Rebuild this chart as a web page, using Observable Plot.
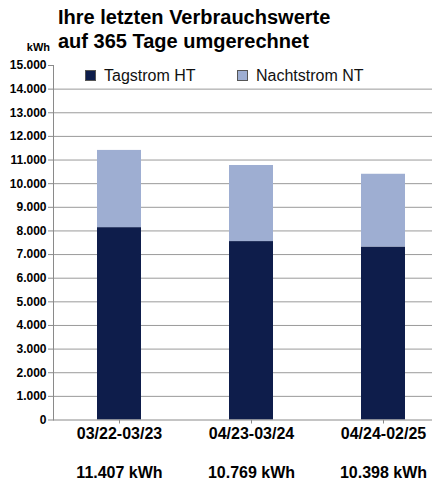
<!DOCTYPE html>
<html>
<head>
<meta charset="utf-8">
<script src="https://cdn.jsdelivr.net/npm/d3@7"></script>
<script src="https://cdn.jsdelivr.net/npm/@observablehq/plot@0.6"></script>
<style>
  html, body { margin: 0; padding: 0; background: #fff; }
  body { font-family: "Liberation Sans", Arial, sans-serif; }
  #wrap { position: relative; width: 432px; height: 483px; overflow: hidden; }
  #title { position: absolute; left: 58px; top: 5px; font-size: 20px; font-weight: bold; line-height: 24px; color: #000; white-space: nowrap; z-index: 2; }
  #unit { position: absolute; right: calc(432px - 50px); top: 41px; font-size: 11px; font-weight: bold; color: #000; z-index: 2; }
  .leg { position: absolute; top: 67px; font-size: 16px; color: #111; white-space: nowrap; z-index: 2; }
  .leg span.sw { display: inline-block; width: 9px; height: 9px; border: 1px solid #555; margin-right: 8px; vertical-align: 0px; }
  svg { position: absolute; left: 0; top: 0; }
  svg g[aria-label="y-axis tick label"] text { font-weight: bold; }
</style>
</head>
<body>
<div id="wrap">
  <div id="title">Ihre letzten Verbrauchswerte<br>auf 365 Tage umgerechnet</div>
  <div id="unit">kWh</div>
</div>
<script>
const periods = ["03/22-03/23", "04/23-03/24", "04/24-02/25"];
const series = ["Tagstrom HT", "Nachtstrom NT"];
const tagstrom = [8140, 7550, 7320];
const nachtstrom = [3267, 3219, 3078];
const totals = [11407, 10769, 10398];
const yTicks = [0, 1000, 2000, 3000, 4000, 5000, 6000, 7000, 8000, 9000, 10000, 11000, 12000, 13000, 14000, 15000];
const gridTicks = [1000, 2000, 3000, 4000, 5000, 6000, 7000, 8000, 9000, 10000, 11000, 12000, 13000, 14000];
const colors = ["#0e1d4b", "#9eaed2"];

const de = d3.formatLocale({decimal: ",", thousands: ".", grouping: [3], currency: ["", " €"]});
const fmt = de.format(",");

const rows = [];
periods.forEach((p, i) => {
  rows.push({period: p, series: series[0], value: tagstrom[i]});
  rows.push({period: p, series: series[1], value: nachtstrom[i]});
});
const totalRows = periods.map((p, i) => ({period: p, label: fmt(totals[i]) + " kWh"}));

const chart = Plot.plot({
  width: 432,
  height: 483,
  marginTop: 65,
  marginBottom: 63.5,
  marginLeft: 53,
  marginRight: 0,
  style: {fontFamily: '"Liberation Sans", Arial, sans-serif', background: "transparent", color: "#000"},
  x: {domain: periods, range: [53, 449], paddingInner: 0.667, paddingOuter: 0.333},
  y: {domain: [0, 15000]},
  color: {domain: series, range: colors},
  marks: [
    Plot.ruleY(gridTicks, {stroke: "#9a9a9a", strokeWidth: 1}),
    Plot.barY(rows, Plot.stackY({x: "period", y: "value", fill: "series", order: null})),
    Plot.ruleY([0], {stroke: "#8a8a8a", strokeWidth: 1}),
    Plot.frame({anchor: "left", stroke: "#8a8a8a"}),
    Plot.axisY({ticks: yTicks, tickFormat: fmt, tickSize: 5, tickPadding: 2, fontSize: 12, fontWeight: "bold", stroke: "#8a8a8a", label: null}),
    Plot.axisX({tickSize: 4, tickFormat: () => "", stroke: "#8a8a8a", label: null}),
    Plot.text(periods, {x: d => d, y: () => 0, text: d => d, lineAnchor: "bottom", dy: 18.5, fontSize: 16, fontWeight: "bold"}),
    Plot.text(totalRows, {x: "period", y: () => 0, text: "label", lineAnchor: "bottom", dy: 57.5, fontSize: 16, fontWeight: "bold"})
  ]
});
const wrap = document.getElementById("wrap");
wrap.insertBefore(chart, wrap.firstChild);

// legend
const legX = [85, 237];
series.forEach((s, i) => {
  const d = document.createElement("div");
  d.className = "leg";
  d.style.left = legX[i] + "px";
  const sw = document.createElement("span");
  sw.className = "sw";
  sw.style.background = colors[i];
  d.appendChild(sw);
  d.appendChild(document.createTextNode(s));
  wrap.appendChild(d);
});
</script>
</body>
</html>
